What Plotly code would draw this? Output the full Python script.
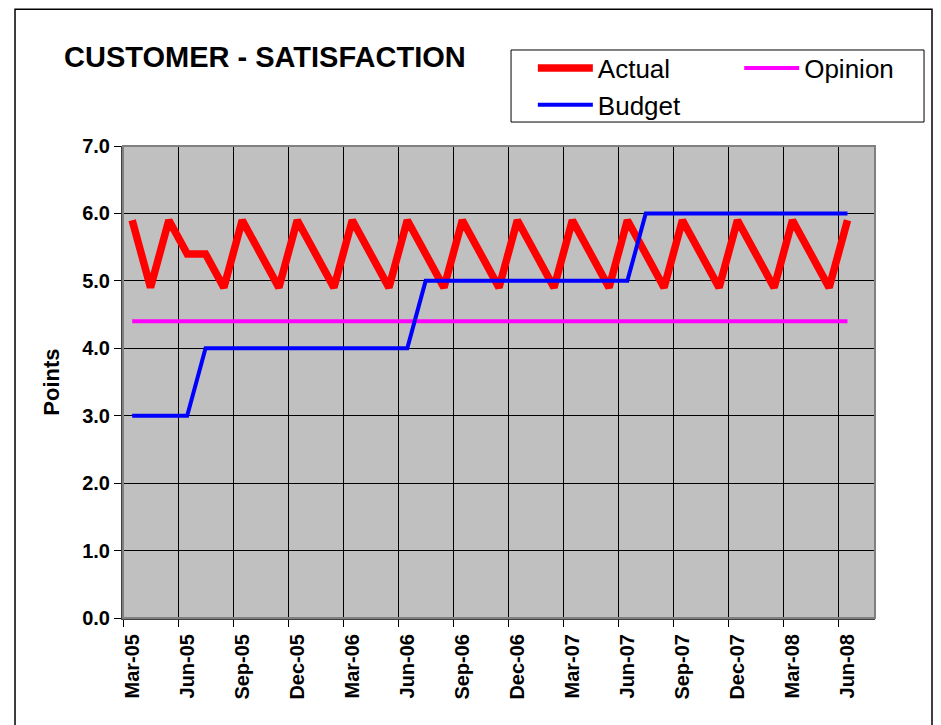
import plotly.graph_objects as go

months = ["Mar-05", "Apr-05", "May-05", "Jun-05", "Jul-05", "Aug-05", "Sep-05", "Oct-05",
          "Nov-05", "Dec-05", "Jan-06", "Feb-06", "Mar-06", "Apr-06", "May-06", "Jun-06",
          "Jul-06", "Aug-06", "Sep-06", "Oct-06", "Nov-06", "Dec-06", "Jan-07", "Feb-07",
          "Mar-07", "Apr-07", "May-07", "Jun-07", "Jul-07", "Aug-07", "Sep-07", "Oct-07",
          "Nov-07", "Dec-07", "Jan-08", "Feb-08", "Mar-08", "Apr-08", "May-08", "Jun-08"]

actual = [5.9, 4.9, 5.9, 5.4, 5.4, 4.9,
          5.9, 5.4, 4.9, 5.9, 5.4, 4.9, 5.9, 5.4, 4.9, 5.9, 5.4, 4.9,
          5.9, 5.4, 4.9, 5.9, 5.4, 4.9, 5.9, 5.4, 4.9, 5.9, 5.4, 4.9,
          5.9, 5.4, 4.9, 5.9, 5.4, 4.9, 5.9, 5.4, 4.9, 5.9]

opinion = [4.4, 4.4, 4.4, 4.4, 4.4, 4.4, 4.4, 4.4, 4.4, 4.4,
           4.4, 4.4, 4.4, 4.4, 4.4, 4.4, 4.4, 4.4, 4.4, 4.4,
           4.4, 4.4, 4.4, 4.4, 4.4, 4.4, 4.4, 4.4, 4.4, 4.4,
           4.4, 4.4, 4.4, 4.4, 4.4, 4.4, 4.4, 4.4, 4.4, 4.4]

budget = [3.0, 3.0, 3.0, 3.0,
          4.0, 4.0, 4.0, 4.0, 4.0, 4.0, 4.0, 4.0, 4.0, 4.0, 4.0, 4.0,
          5.0, 5.0, 5.0, 5.0, 5.0, 5.0, 5.0, 5.0, 5.0, 5.0, 5.0, 5.0,
          6.0, 6.0, 6.0, 6.0, 6.0, 6.0, 6.0, 6.0, 6.0, 6.0, 6.0, 6.0]

y_ticks = [0.0, 1.0, 2.0, 3.0, 4.0, 5.0, 6.0, 7.0]

idx = list(range(len(months)))
label_idx = idx[::3]
label_text = [months[i] for i in label_idx]

FONT = "Arial, 'Liberation Sans', sans-serif"

fig = go.Figure()
fig.add_trace(go.Scatter(x=idx, y=actual, name="Actual", mode="lines",
                         line=dict(color="#FF0000", width=7.5), legend="legend"))
fig.add_trace(go.Scatter(x=idx, y=opinion, name="Opinion", mode="lines",
                         line=dict(color="#FF00FF", width=4), legend="legend2"))
fig.add_trace(go.Scatter(x=idx, y=budget, name="Budget", mode="lines",
                         line=dict(color="#0000FF", width=4), legend="legend"))

fig.update_layout(
    width=933, height=717,
    margin=dict(l=115, r=66, t=138, b=107),
    paper_bgcolor="white",
    plot_bgcolor="#C0C0C0",
    font=dict(family=FONT, color="black"),
    title=dict(text="<b>CUSTOMER - SATISFACTION</b>", x=(64 - 8) / 933, xanchor="left",
               y=1 - (57 - 8) / 717, yanchor="middle", yref="container",
               font=dict(family=FONT, size=29, color="black")),
    showlegend=True,
    legend=dict(x=0.545, xanchor="left", y=1.215, yanchor="top", orientation="v",
                bgcolor="rgba(0,0,0,0)", borderwidth=0, itemwidth=55,
                font=dict(family=FONT, size=26, color="black"), tracegroupgap=0),
    legend2=dict(x=0.8194, xanchor="left", y=1.215, yanchor="top", orientation="v",
                 bgcolor="rgba(0,0,0,0)", borderwidth=0, itemwidth=55,
                 font=dict(family=FONT, size=26, color="black")),
    xaxis=dict(
        range=[-0.5, 40.5], tickmode="array", tickvals=label_idx, ticktext=label_text,
        tickangle=-90, tickfont=dict(family=FONT, size=20, color="black", weight="bold"),
        ticks="outside", ticklen=6, tickcolor="rgba(0,0,0,0)",
        showgrid=False, zeroline=False,
        showline=True, linecolor="#404040", linewidth=2,
        minor=dict(tickmode="linear", tick0=-0.5, dtick=3, ticks="outside", ticklen=7,
                   tickcolor="black", tickwidth=1, showgrid=True, gridcolor="black",
                   gridwidth=1),
        fixedrange=True,
    ),
    yaxis=dict(
        range=[0, 7], tickmode="array", tickvals=y_ticks,
        ticktext=["%.1f" % v for v in y_ticks],
        tickfont=dict(family=FONT, size=20, color="black", weight="bold"),
        ticks="outside", ticklen=7, tickcolor="black", tickwidth=1,
        showgrid=True, gridcolor="black", gridwidth=1, zeroline=False,
        showline=True, linecolor="#404040", linewidth=2,
        title=dict(text="<b>Points</b>", font=dict(family=FONT, size=22, color="black"),
                   standoff=16),
        fixedrange=True,
    ),
    shapes=[
        # plot area border
        dict(type="rect", xref="paper", yref="paper", x0=0, x1=1, y0=0, y1=1,
             line=dict(color="#808080", width=2), fillcolor="rgba(0,0,0,0)", layer="above"),
        # legend box
        dict(type="rect", xref="paper", yref="paper", x0=0.516, x1=1.0652, y0=1.0508, y1=1.2034,
             line=dict(color="black", width=1), fillcolor="rgba(0,0,0,0)"),
        # chart border
        dict(type="rect", xref="paper", yref="paper", x0=-0.1436, x1=1.0758, y0=-0.25, y1=1.2895,
             line=dict(color="black", width=1.5), fillcolor="rgba(0,0,0,0)"),
    ],
)

fig.write_html("out.html")
